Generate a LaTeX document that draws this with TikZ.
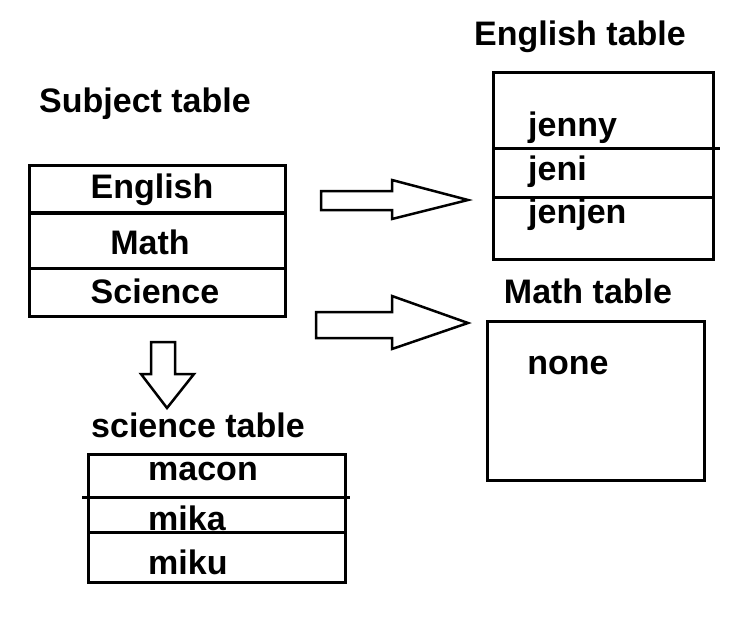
\documentclass[tikz,border=0pt]{standalone}
\usepackage{fontspec}
\setmainfont{Liberation Sans}
\begin{document}
\begin{tikzpicture}[x=1pt,y=-1pt,
  box/.style={draw,line width=3pt},
  sep/.style={line width=3pt},
  lbl/.style={font=\fontsize{34}{36}\selectfont\bfseries,inner sep=0pt},
  blk/.style={draw,line width=2.5pt,line join=miter}]
\useasboundingbox (0,0) rectangle (755,635);
% Subject table
\node[lbl] (tsub) at (145,104) {Subject table};
\draw[box] (29,165) rectangle (285,316);
\draw[line width=4.5pt] (29,213) -- (285,213);
\draw[sep] (29,268) -- (285,268);
\node[lbl] (e1) at (152,190) {English};
\node[lbl] (m1) at (150,242) {Math};
\node[lbl] (s1) at (155,291) {Science};
% English table
\node[lbl] (teng) at (580,37) {English table};
\draw[box] (493,72) rectangle (713,259);
\draw[sep] (493,148) -- (720,148);
\draw[sep] (493,197) -- (713,197);
\node[lbl,anchor=west] (j1) at (528,128) {jenny};
\node[lbl,anchor=west] (j2) at (528,172) {jeni};
\node[lbl,anchor=west] (j3) at (528,215) {jenjen};
% Math table
\node[lbl] (tmath) at (588,291) {Math table};
\draw[box] (487,321) rectangle (704,480);
\node[lbl] (none) at (568,366) {none};
% Science table
\node[lbl] (tsci) at (198,425) {science table};
\draw[box] (88,454) rectangle (345,582);
\draw[sep] (82,497) -- (350,497);
\draw[sep] (88,532) -- (345,532);
\node[lbl,anchor=west] (mc) at (148,472) {macon};
\node[lbl,anchor=west] (mk) at (148,518) {mika};
\node[lbl,anchor=west] (mu) at (148,562) {miku};
% block arrows
\draw[blk] (321,191) -- (392,191) -- (392,180) -- (468,200) -- (392,219) -- (392,210) -- (321,210) -- cycle;
\draw[blk] (316,312) -- (392,312) -- (392,296) -- (468,323) -- (392,349) -- (392,338) -- (316,338) -- cycle;
\draw[blk] (151,342) -- (175,342) -- (175,374) -- (194,374) -- (167,408) -- (141,374) -- (151,374) -- cycle;
\end{tikzpicture}
\end{document}
